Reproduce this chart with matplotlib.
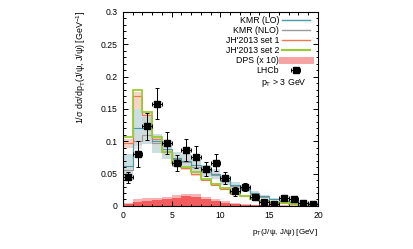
import numpy as np
import matplotlib.pyplot as plt
from matplotlib.ticker import MultipleLocator

plt.rcParams['font.family'] = ['Liberation Sans', 'DejaVu Sans']
plt.rcParams['mathtext.fontset'] = 'custom'
plt.rcParams['mathtext.rm'] = 'Liberation Sans'
plt.rcParams['mathtext.it'] = 'Liberation Sans:italic'

# bins in pT(J/psi, J/psi), 1 GeV wide
edges = np.arange(0, 21, 1)
centers = edges[:-1] + 0.5

lhcb_y = [0.044, 0.080, 0.123, 0.158, 0.097, 0.066, 0.086, 0.075, 0.057, 0.067,
          0.043, 0.023, 0.029, 0.014, 0.006, 0.003, 0.012, 0.010, 0.004, 0.003]
lhcb_err = [0.009, 0.020, 0.021, 0.024, 0.017, 0.012, 0.017, 0.017, 0.011, 0.013,
            0.009, 0.007, 0.006, 0.004, 0.004, 0.003, 0.004, 0.004, 0.003, 0.003]

kmr_lo = [0.062, 0.120, 0.120, 0.100, 0.088, 0.074, 0.070, 0.063, 0.055, 0.050,
          0.040, 0.032, 0.027, 0.020, 0.015, 0.011, 0.008, 0.006, 0.005, 0.004]
kmr_lo_dn = [0.040, 0.092, 0.095, 0.082, 0.072, 0.060, 0.057, 0.051, 0.045, 0.041,
             0.033, 0.026, 0.022, 0.016, 0.012, 0.009, 0.006, 0.005, 0.004, 0.003]
kmr_lo_up = [0.080, 0.150, 0.138, 0.112, 0.100, 0.084, 0.080, 0.072, 0.063, 0.057,
             0.046, 0.037, 0.031, 0.023, 0.017, 0.013, 0.009, 0.007, 0.006, 0.005]

kmr_nlo = [0.055, 0.100, 0.110, 0.097, 0.085, 0.072, 0.068, 0.060, 0.053, 0.048,
           0.038, 0.031, 0.026, 0.019, 0.014, 0.010, 0.008, 0.006, 0.005, 0.004]
kmr_nlo_dn = [0.048, 0.088, 0.098, 0.088, 0.077, 0.065, 0.061, 0.054, 0.048, 0.043,
              0.034, 0.028, 0.023, 0.017, 0.012, 0.009, 0.007, 0.005, 0.004, 0.003]
kmr_nlo_up = [0.062, 0.112, 0.122, 0.106, 0.093, 0.079, 0.075, 0.066, 0.058, 0.053,
              0.042, 0.034, 0.029, 0.021, 0.016, 0.011, 0.009, 0.007, 0.006, 0.005]

jh1 = [0.098, 0.170, 0.140, 0.103, 0.083, 0.064, 0.058, 0.050, 0.040, 0.033,
       0.026, 0.019, 0.015, 0.010, 0.007, 0.005, 0.004, 0.003, 0.002, 0.002]
jh1_dn = [0.090, 0.150, 0.128, 0.096, 0.078, 0.060, 0.055, 0.047, 0.038, 0.031,
          0.024, 0.018, 0.014, 0.009, 0.006, 0.004, 0.003, 0.002, 0.002, 0.001]
jh1_up = [0.104, 0.176, 0.146, 0.108, 0.087, 0.067, 0.061, 0.053, 0.042, 0.035,
          0.028, 0.020, 0.016, 0.011, 0.008, 0.006, 0.005, 0.003, 0.003, 0.002]

jh2 = [0.107, 0.180, 0.145, 0.107, 0.083, 0.066, 0.060, 0.052, 0.042, 0.034,
       0.027, 0.020, 0.016, 0.011, 0.008, 0.006, 0.004, 0.003, 0.002, 0.002]

dps = [0.003, 0.006, 0.008, 0.009, 0.010, 0.012, 0.015, 0.014, 0.011, 0.008,
       0.005, 0.003, 0.002, 0.001, 0.001, 0.0005, 0.0005, 0.0003, 0.0003, 0.0002]
dps_up = [0.005, 0.010, 0.012, 0.013, 0.014, 0.0165, 0.019, 0.018, 0.014, 0.010,
          0.007, 0.004, 0.003, 0.002, 0.0015, 0.001, 0.001, 0.0007, 0.0006, 0.0005]

c_lo, c_lo_band = '#4a9ba6', '#b7d5d9'
c_nlo, c_nlo_band = '#9a9a9a', '#d9d9d9'
c_jh1, c_jh1_band = '#f07850', '#f7cfc2'
c_jh2 = '#99cc33'
c_dps, c_dps_band = '#f25c5c', '#f7b3b3'


def step_band(ax, lo, hi, color, alpha=1.0):
    ax.fill_between(edges, np.append(lo, lo[-1]), np.append(hi, hi[-1]),
                    step='post', color=color, alpha=alpha, lw=0)


def step_line(ax, vals, color, lw):
    ax.stairs(vals, edges, color=color, lw=lw)


fig = plt.figure(figsize=(4.14, 2.49), dpi=100)
ax = fig.add_axes([0.297, 0.173, 0.471, 0.779])

# theory bands
step_band(ax, jh1_dn, jh1_up, c_jh1_band, 0.9)
step_band(ax, kmr_lo_dn, kmr_lo_up, c_lo_band, 0.75)
step_band(ax, kmr_nlo_dn, kmr_nlo_up, c_nlo_band, 0.6)

# DPS (x10)
step_band(ax, dps, dps_up, c_dps_band)
step_band(ax, np.zeros(len(dps)), dps, c_dps)

step_line(ax, kmr_nlo, c_nlo, 0.8)
step_line(ax, kmr_lo, c_lo, 0.8)
step_line(ax, jh1, c_jh1, 0.8)
step_line(ax, jh2, c_jh2, 1.3)

ax.errorbar(centers, lhcb_y, yerr=lhcb_err, xerr=0.5, fmt='s',
            color='black', ms=4.5, elinewidth=0.7, capsize=1.5,
            capthick=0.7, zorder=5)

# legend proxies (drawn outside the view)
h_lo, = ax.plot([], [], color=c_lo, lw=1.0)
h_nlo, = ax.plot([], [], color=c_nlo, lw=1.0)
h_jh1, = ax.plot([], [], color=c_jh1, lw=1.0)
h_jh2, = ax.plot([], [], color=c_jh2, lw=1.5)
h_dps, = ax.plot([], [], color='#f6a3a3', lw=5)
h_lhcb = ax.errorbar([-10], [-10], xerr=1, fmt='s', color='black', ms=4.5,
                     elinewidth=0.7, capsize=1.5, capthick=0.7)
leg = ax.legend([h_lo, h_nlo, h_jh1, h_jh2, h_dps, h_lhcb],
                ['KMR (LO)', 'KMR (NLO)', "JH'2013 set 1", "JH'2013 set 2",
                 'DPS (x 10)', 'LHCb'],
                loc='upper right', bbox_to_anchor=(0.985, 1.005), frameon=False,
                markerfirst=False, fontsize=6.3, handlelength=3.2,
                labelspacing=0.1, handletextpad=0.3, borderaxespad=0.2)
ax.text(0.944, 0.636, 'p$_\\mathrm{T}$ > 3 GeV', transform=ax.transAxes,
        ha='right', va='center', fontsize=6.3)

ax.set_xlim(0, 20)
ax.set_ylim(0, 0.3)
ax.xaxis.set_major_locator(MultipleLocator(5))
ax.xaxis.set_minor_locator(MultipleLocator(1))
ax.yaxis.set_major_locator(MultipleLocator(0.05))
ax.yaxis.set_minor_locator(MultipleLocator(0.01))
ax.tick_params(which='both', direction='in', top=True, right=True,
               labelsize=6.2, width=0.7, pad=4)
ax.tick_params(which='major', length=3.5)
ax.tick_params(which='minor', length=1.8)
ax.set_yticks([0, 0.05, 0.1, 0.15, 0.2, 0.25, 0.3])
ax.set_yticklabels(['0', '0.05', '0.1', '0.15', '0.2', '0.25', '0.3'])
for s in ax.spines.values():
    s.set_linewidth(0.8)

ax.set_ylabel('1/σ dσ/dp$_\\mathrm{T}$(J/ψ, J/ψ) [GeV$^{-1}$]', fontsize=6.4,
              loc='top')
ax.yaxis.set_label_coords(-0.18, 1.01)
ax.set_xlabel('p$_\\mathrm{T}$(J/ψ, J/ψ) [GeV]', fontsize=5.8, loc='right')
ax.xaxis.set_label_coords(1.0, -0.11)

fig.savefig('out.png', dpi=100)
